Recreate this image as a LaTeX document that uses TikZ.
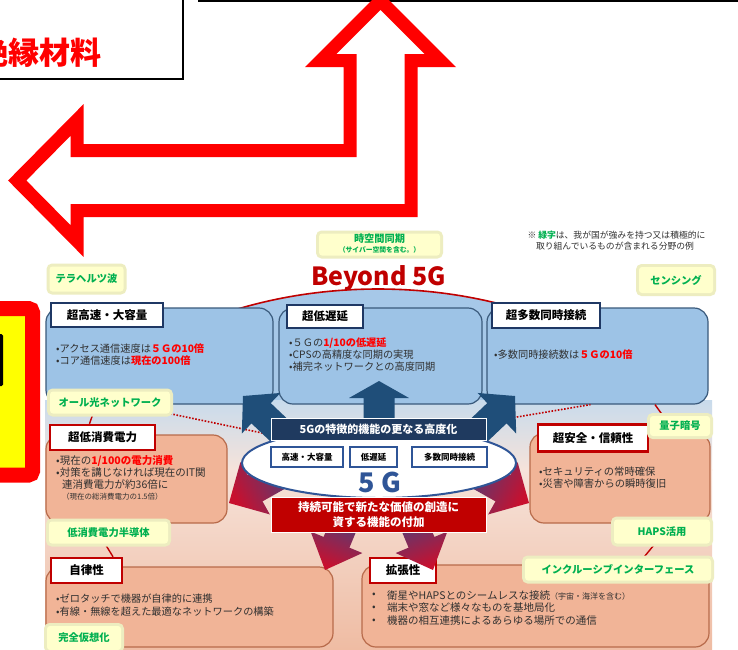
\documentclass[tikz,border=0pt]{standalone}
\usepackage{fontspec}
\setmainfont{Noto Sans CJK JP}
\usetikzlibrary{shapes.geometric,calc}

\definecolor{boxblue}{HTML}{9DC3E6}
\definecolor{boxblueborder}{HTML}{3A5A7C}
\definecolor{navylab}{HTML}{1F3864}
\definecolor{bgblue}{HTML}{A6C8E8}
\definecolor{bgbluetwo}{HTML}{C8DBEC}
\definecolor{bgpink}{HTML}{F6E3DA}
\definecolor{bgsal}{HTML}{EFBCA3}
\definecolor{salfill}{HTML}{F1B497}
\definecolor{salborder}{HTML}{B86B4B}
\definecolor{labred}{HTML}{C00000}
\definecolor{hired}{HTML}{FF0000}
\definecolor{greentext}{HTML}{00B050}
\definecolor{glowfill}{HTML}{FFFFCC}
\definecolor{glowedge}{HTML}{EDEDC0}
\definecolor{arrblue}{HTML}{1F4E79}
\definecolor{ellblue}{HTML}{2F5597}
\definecolor{bannavy}{HTML}{1F3A5F}
\definecolor{arrpurple}{HTML}{34498A}
\definecolor{arrmid}{HTML}{7A2E66}
\definecolor{arrred}{HTML}{C8102E}
\definecolor{bodytext}{HTML}{303030}
\definecolor{yellowbox}{HTML}{FFFF00}

\newcommand{\hl}[1]{\textcolor{hired}{\bfseries #1}}
\newcommand{\blockarr}[6]{%
  \coordinate (barH) at ($(#3)!#6!(#2)$);
  \path[#1] ($(#2)!#4!90:(#3)$) -- ($(barH)!#4!90:(#3)$) -- ($(barH)!#5!90:(#3)$) -- (#3)
    -- ($(barH)!#5!-90:(#3)$) -- ($(barH)!#4!-90:(#3)$) -- ($(#2)!#4!-90:(#3)$) -- cycle;}

\begin{document}
\begin{tikzpicture}[x=1pt,y=-1pt,
  bluebox/.style={draw=boxblueborder, fill=boxblue, rounded corners=14pt, line width=1.2pt, inner sep=0},
  salbox/.style={draw=salborder, fill=salfill, rounded corners=14pt, line width=1.2pt, inner sep=0},
  bluelabel/.style={draw=navylab, fill=white, line width=2pt, inner sep=0, font=\bfseries\fontsize{11.5}{13}\selectfont},
  redlabel/.style={draw=labred, fill=white, line width=2.5pt, inner sep=0, font=\bfseries\fontsize{11.5}{13}\selectfont},
  body/.style={anchor=west, inner sep=0, text=bodytext, font=\fontsize{10.2}{12}\selectfont},
  glow/.style={fill=glowfill, rounded corners=3pt, preaction={draw=glowedge, line width=6pt, rounded corners=3pt},
     text=greentext, inner sep=0, font=\bfseries\fontsize{10.3}{12}\selectfont},
  conn/.style={draw=labred, line width=1.4pt},
  dotconn/.style={draw=labred, line width=1.6pt, dash pattern=on 1.6pt off 1.6pt},
  smallbox/.style={draw=ellblue, line width=1.8pt, fill=white, minimum height=20pt, inner sep=0,
     font=\bfseries\fontsize{8.5}{10}\selectfont},
  bluearr/.style={fill=arrblue},
  redarr/.style={top color=arrpurple, middle color=arrmid, bottom color=arrred}
]
\useasboundingbox (0,0) rectangle (738,649);
\clip (0,0) rectangle (738,649);
\fill[white] (0,0) rectangle (738,649);

% ---------- top-left box and hollow arrow ----------
\node[draw=black, line width=1.5pt, fill=white, minimum width=223pt, minimum height=99pt, inner sep=0] (tlbox) at (71.5,29.5) {};
\node[inner sep=0, text=hired, font=\bfseries\fontsize{31}{31}\selectfont] (insul) at (39.5,53) {絶縁材料};
\draw[line width=2.5pt] (198,0.5) -- (745,0.5);
\draw[hired, line width=13pt, line join=miter, miter limit=10]
  (380.5,0.7) -- (440.3,60.5) -- (411,60.5) -- (411,210.5) -- (77,210.5) -- (77,241)
  -- (17.2,180.5) -- (77,120) -- (77,150.5) -- (350,150.5) -- (350,60.5) -- (320.7,60.5) -- cycle;

% ---------- yellow box at left ----------
\draw[draw=hired, line width=15pt, fill=yellowbox, rounded corners=4pt] (-30,308.5) rectangle (32.5,475);
\fill[black, rounded corners=1.5pt] (-10,334) rectangle (3,386);

% ---------- background ----------
\begin{scope}
  \clip (45,280) rectangle (712,430);
  \fill[bgblue] (378,573) ellipse [x radius=380pt, y radius=284pt];
\end{scope}
\fill[top color=bgbluetwo, bottom color=bgpink] (45,400) rectangle (712,470);
\fill[top color=bgpink, bottom color=bgsal] (45,469.5) rectangle (712,649);
\begin{scope}
  \clip (200,280) rectangle (540,318);
  \draw[labred, line width=1.6pt] (378,573) ellipse [x radius=380pt, y radius=284pt];
\end{scope}

% ---------- top (blue) boxes ----------
\node[bluebox, minimum width=227pt, minimum height=96pt] (bA) at (159.5,356) {};
\node[bluebox, minimum width=203pt, minimum height=96pt] (bB) at (380.5,356) {};
\node[bluebox, minimum width=221pt, minimum height=96pt] (bC) at (597.5,356) {};
\node[bluelabel, minimum width=112pt, minimum height=24pt] (lA) at (107,315) {超高速・大容量};
\node[bluelabel, minimum width=76pt, minimum height=23pt] (lB) at (325,316) {超低遅延};
\node[bluelabel, minimum width=108pt, minimum height=25pt] (lC) at (546,315.5) {超多数同時接続};
\node[body] (tA1) at (56,349) {•アクセス通信速度は\hl{５Ｇの10倍}};
\node[body] (tA2) at (56,361) {•コア通信速度は\hl{現在の100倍}};
\node[body] (tB1) at (289,343) {•５Ｇの\hl{1/10の低遅延}};
\node[body] (tB2) at (289,355) {•CPSの高精度な同期の実現};
\node[body] (tB3) at (289,367) {•補完ネットワークとの高度同期};
\node[body] (tC1) at (494,355) {•多数同時接続数は\hl{５Ｇの10倍}};

% ---------- salmon boxes ----------
\node[salbox, minimum width=181pt, minimum height=88pt] (bLP) at (136.5,479) {};
\node[salbox, minimum width=180pt, minimum height=90pt] (bSec) at (620,478) {};
\node[salbox, minimum width=287pt, minimum height=80pt] (bAut) at (189.5,607) {};
\node[salbox, minimum width=347pt, minimum height=82pt] (bExp) at (535.5,606) {};
\node[redlabel, minimum width=105pt, minimum height=25pt] (lLP) at (102.5,437.5) {超低消費電力};
\node[redlabel, minimum width=110pt, minimum height=27pt] (lSec) at (593,438) {超安全・信頼性};
\node[redlabel, minimum width=71pt, minimum height=25pt] (lAut) at (86.5,570.5) {自律性};
\node[redlabel, minimum width=66pt, minimum height=25pt] (lExp) at (403,570.5) {拡張性};

\node[body, font=\fontsize{10.5}{12}\selectfont] (tL1) at (56,461) {•現在の\hl{1/100の電力消費}};
\node[body, font=\fontsize{10.5}{12}\selectfont] (tL2) at (56,473) {•対策を講じなければ現在のIT関};
\node[body, font=\fontsize{10.5}{12}\selectfont] (tL3) at (62,484) {連消費電力が約36倍に};
\node[body, font=\fontsize{7.5}{9}\selectfont] (tL4) at (62,497) {（現在の総消費電力の1.5倍）};
\node[body, font=\fontsize{10.3}{12}\selectfont] (tS1) at (539,472) {•セキュリティの常時確保};
\node[body, font=\fontsize{10.3}{12}\selectfont] (tS2) at (539,484) {•災害や障害からの瞬時復旧};
\node[body] (tU1) at (56,599) {•ゼロタッチで機器が自律的に連携};
\node[body] (tU2) at (56,612) {•有線・無線を超えた最適なネットワークの構築};
\node[body, font=\fontsize{10.5}{12}\selectfont] (bu1) at (372,595) {•};
\node[body, font=\fontsize{10.5}{12}\selectfont] (bu2) at (372,608) {•};
\node[body, font=\fontsize{10.5}{12}\selectfont] (bu3) at (372,621) {•};
\node[body, font=\fontsize{10.5}{12}\selectfont] (tE1) at (387,595) {衛星やHAPSとのシームレスな接続{\fontsize{8}{9}\selectfont （宇宙・海洋を含む）}};
\node[body, font=\fontsize{10.5}{12}\selectfont] (tE2) at (387,608) {端末や窓など様々なものを基地局化};
\node[body, font=\fontsize{10.5}{12}\selectfont] (tE3) at (387,621) {機器の相互連携によるあらゆる場所での通信};

% ---------- ellipse node (for anchors), drawn later on top ----------
\path (379,463) node[ellipse, minimum width=274pt, minimum height=70pt, inner sep=0] (g5) {};

% ---------- green labels (placed now for anchors) ----------
\path (86.5,279) node[minimum width=74pt, minimum height=25pt, inner sep=0] (gTera) {};
\path (110,402.5) node[minimum width=120pt, minimum height=22pt, inner sep=0] (gOpt) {};
\path (108.5,532.5) node[minimum width=119pt, minimum height=22pt, inner sep=0] (gLPS) {};
\path (680,426) node[minimum width=60pt, minimum height=20pt, inner sep=0] (gQ) {};
\path (662,531.5) node[minimum width=96pt, minimum height=24pt, inner sep=0] (gHAPS) {};
\path (618,569.5) node[minimum width=186pt, minimum height=22pt, inner sep=0] (gInc) {};

% ---------- connectors ----------
\draw[conn] ($(gOpt.south)+(-17,0)$) -- ($(lLP.north)+(-13,0)$);
\draw[dotconn] (gOpt.south east) -- (g5.165);
\draw[dotconn] (g5.30) -- ($(bC.south)+(-7,0)$);
\draw[conn] ($(bC.south)+(57.5,0)$) -- ($(gQ.north)+(-17,0)$);
\draw[conn] ($(gHAPS.south)+(-7,0)$) -- ($(gInc.north)+(25,0)$);
\draw[conn] ($(gLPS.south)+(-3.5,0)$) -- ($(lAut.north)+(26.5,0)$);

% ---------- block arrows ----------
\coordinate (aS1) at (379,420);  \coordinate (aT1) at (379,381);
\coordinate (aS2) at (305,455);  \coordinate (aT2) at (243,396);
\coordinate (aS3) at (453,455);  \coordinate (aT3) at (515,396);
\coordinate (aS4) at (300,463);  \coordinate (aT4) at (229,503);
\coordinate (aS5) at (458,463);  \coordinate (aT5) at (529,503);
\coordinate (aS6) at (352,505);  \coordinate (aT6) at (325,570);
\coordinate (aS7) at (406,505);  \coordinate (aT7) at (433,570);
\blockarr{bluearr}{aS1}{aT1}{15.5pt}{30pt}{17pt}
\blockarr{bluearr}{aS2}{aT2}{14pt}{28pt}{25pt}
\blockarr{bluearr}{aS3}{aT3}{14pt}{28pt}{25pt}
\blockarr{redarr, shading angle=-60.6}{aS4}{aT4}{15pt}{30pt}{30pt}
\blockarr{redarr, shading angle=60.6}{aS5}{aT5}{15pt}{30pt}{30pt}
\blockarr{redarr, shading angle=-22.6}{aS6}{aT6}{14pt}{28pt}{30pt}
\blockarr{redarr, shading angle=22.6}{aS7}{aT7}{14pt}{28pt}{30pt}

% ---------- central 5G ----------
\node[ellipse, draw=ellblue, line width=2pt, fill=white, minimum width=274pt, minimum height=70pt, inner sep=0] (g5b) at (379,463) {};
\node[smallbox, minimum width=72pt] (s1) at (307,457) {高速・大容量};
\node[smallbox, minimum width=47pt] (s2) at (373.5,457) {低遅延};
\node[smallbox, minimum width=75pt] (s3) at (449.5,457) {多数同時接続};
\node[inner sep=0, text=ellblue, font=\bfseries\fontsize{27}{27}\selectfont] (t5g) at (380,482) {5 G};
\node[fill=bannavy, draw=white, line width=0.8pt, minimum width=215pt, minimum height=22pt, inner sep=0,
  text=white, font=\bfseries\fontsize{11}{13}\selectfont] (bn1) at (378.5,429) {5Gの特徴的機能の更なる高度化};
\node[fill=labred, draw=white, line width=0.8pt, minimum width=215pt, minimum height=35pt, inner sep=0,
  text=white, align=center, font=\bfseries\fontsize{11.5}{15}\selectfont] (bn2) at (378.5,514.5) {持続可能で新たな価値の創造に\\資する機能の付加};

% ---------- green labels ----------
\node[glow, minimum width=74pt, minimum height=25pt] (gTeraB) at (gTera) {テラヘルツ波};
\node[glow, minimum width=74pt, minimum height=26pt] (gSens) at (676,280) {センシング};
\node[glow, minimum width=120pt, minimum height=22pt] (gOptB) at (gOpt) {オール光ネットワーク};
\node[glow, minimum width=119pt, minimum height=22pt] (gLPSB) at (gLPS) {低消費電力半導体};
\node[glow, minimum width=74pt, minimum height=24pt] (gVirt) at (84,638) {完全仮想化};
\node[glow, minimum width=60pt, minimum height=20pt] (gQB) at (gQ) {量子暗号};
\node[glow, minimum width=96pt, minimum height=24pt] (gHAPSB) at (gHAPS) {HAPS活用};
\node[glow, minimum width=186pt, minimum height=22pt] (gIncB) at (gInc) {インクルーシブインターフェース};
\node[glow, minimum width=121pt, minimum height=22pt] (gSync) at (379.5,244.5) {};
\node[inner sep=0, text=greentext, font=\bfseries\fontsize{10.2}{12}\selectfont] (tSync1) at (379.5,238.5) {時空間同期};
\node[inner sep=0, text=greentext, font=\bfseries\fontsize{6.8}{8}\selectfont] (tSync2) at (379.5,250) {（サイバー空間を含む。）};

% ---------- Beyond 5G title and note ----------
\node[anchor=base, inner sep=0, text=labred, font=\bfseries\fontsize{25}{25}\selectfont] (b5g) at (378.5,285) {Beyond 5G};
\node[inner sep=0, text=bodytext, font=\fontsize{8.8}{10}\selectfont] (note1) at (616.5,235) {※ \textcolor{greentext}{\bfseries 緑字}は、我が国が強みを持つ又は積極的に};
\node[inner sep=0, text=bodytext, font=\fontsize{8.8}{10}\selectfont] (note2) at (615,246.5) {取り組んでいるものが含まれる分野の例};
\end{tikzpicture}
\end{document}
